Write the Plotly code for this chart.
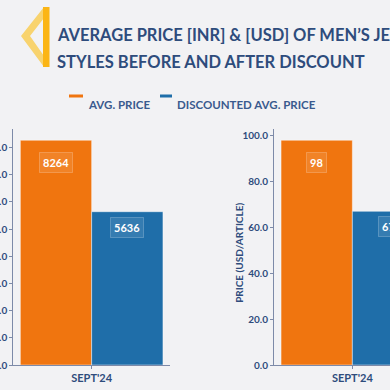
import plotly.graph_objects as go

categories = ["SEPT'24"]
avg_inr = [8264]
disc_inr = [5636]
avg_usd = [98]
disc_usd = [67]
series_names = ["AVG. PRICE", "DISCOUNTED AVG. PRICE"]

ORANGE = "#f0750f"
BLUE = "#1f6ea9"
NAVY = "#2e4c7c"
AXIS = "#7d8aa8"
BG = "#f2f2f4"
FONT = "Lato"

W = H = 390
def px(x):
    return x / W
def py(y):
    return 1 - y / H

fig = go.Figure()
bargap = 0.09

pairs = [(avg_inr, disc_inr, "x", "y"), (avg_usd, disc_usd, "x2", "y2")]
for avg, disc, xa, ya in pairs:
    for vals, name, col in [(avg, series_names[0], ORANGE), (disc, series_names[1], BLUE)]:
        fig.add_trace(go.Bar(x=categories, y=vals, name=name, xaxis=xa, yaxis=ya,
                             marker=dict(color=col, line=dict(color="rgba(255,255,255,0.45)", width=1)),
                             showlegend=False, hoverinfo="skip"))
    half = (1 - bargap) / 4
    for vals, off in [(avg, -half), (disc, half)]:
        for i, v in enumerate(vals):
            fig.add_annotation(x=i + off, y=v * 0.9, xref=xa, yref=ya, text=f"<b>{v}</b>",
                               showarrow=False, font=dict(family=FONT, size=11, color="white"),
                               bgcolor="rgba(255,255,255,0.10)", bordercolor="rgba(255,255,255,0.22)",
                               borderwidth=1, borderpad=3)

ydom = [py(365), py(129)]
axis_common = dict(showline=True, linecolor=AXIS, linewidth=1, showgrid=False, zeroline=False,
                   ticks="outside", ticklen=3, tickcolor=AXIS, automargin=False,
                   tickfont=dict(family=FONT, size=10, color=NAVY, weight="bold"))
fig.update_layout(
    width=W, height=H, margin=dict(l=0, r=0, t=0, b=0, autoexpand=False),
    paper_bgcolor=BG, plot_bgcolor=BG, barmode="group", bargap=bargap,
    showlegend=False,
    xaxis=dict(domain=[px(13.3), px(170)], type="category", range=[-0.5, 0.5], **axis_common),
    yaxis=dict(domain=ydom, range=[0, max(avg_inr) * 1.05], dtick=1000, tickformat=".1f", **axis_common),
    xaxis2=dict(domain=[px(274), 1], type="category", range=[-0.5, -0.5 + 116 / 156.7], anchor="y2", **axis_common),
    yaxis2=dict(domain=ydom, range=[0, max(avg_usd) * 1.05], dtick=20, tickformat=".1f", anchor="x2", **axis_common),
)
fig.update_xaxes(tickfont=dict(size=11))

# Y axis title
fig.add_annotation(x=px(239), y=(ydom[0] + ydom[1]) / 2 - 0.015, xref="paper", yref="paper",
                   text="<b>PRICE (USD/ARTICLE)</b>", textangle=-90, showarrow=False,
                   font=dict(family=FONT, size=10, color=NAVY))

# Legend (manual)
leg = [(69, 83, 86, series_names[0], ORANGE), (160, 172, 175, series_names[1], BLUE)]
for x0, x1, tx, name, col in leg:
    fig.add_shape(type="rect", xref="paper", yref="paper", x0=px(x0), x1=px(x1),
                  y0=py(97.5), y1=py(94.5), fillcolor=col, line=dict(width=0))
    fig.add_annotation(x=px(tx), y=py(96), xref="paper", yref="paper", xanchor="left",
                       text=f"<b>{name}</b>", showarrow=False,
                       font=dict(family=FONT, size=11.5, color="#3a5a8e"))

# Title decoration
fig.add_shape(type="path", xref="paper", yref="paper",
              path=f"M {px(44)} {py(7)} L {px(21)} {py(36)} L {px(44)} {py(67)} L {px(44)} {py(56)} L {px(30)} {py(36)} L {px(44)} {py(18)} Z",
              fillcolor="#f8d36e", line=dict(width=0))
fig.add_shape(type="rect", xref="paper", yref="paper", x0=px(43), x1=px(49.5), y0=py(67), y1=py(7),
              fillcolor="#fbb515", line=dict(width=0))
fig.add_annotation(x=px(55), y=py(23), xref="paper", yref="paper", xanchor="left",
                   text="<b>AVERAGE PRICE [INR] &amp; [USD] OF MEN’S JEANS</b>", showarrow=False,
                   font=dict(family=FONT, size=16.5, color=NAVY))
fig.add_annotation(x=px(55), y=py(50), xref="paper", yref="paper", xanchor="left",
                   text="<b>STYLES BEFORE AND AFTER DISCOUNT</b>", showarrow=False,
                   font=dict(family=FONT, size=16.5, color=NAVY))

fig.write_html("out.html", config={"displayModeBar": False},
               post_script="document.body.style.margin='0';document.body.style.overflow='hidden';document.body.style.background='#f2f2f4';")
